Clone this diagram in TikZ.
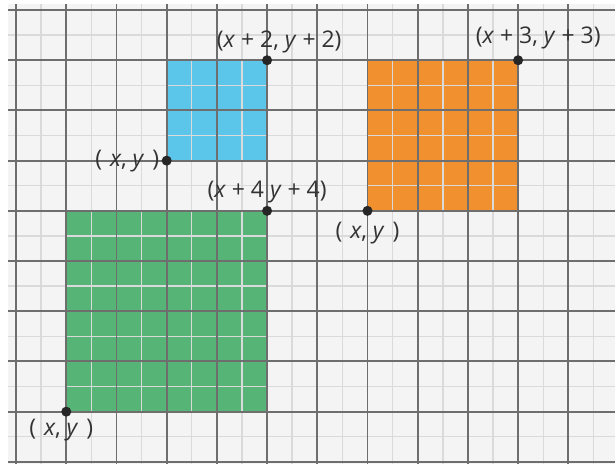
\documentclass[tikz,border=0pt]{standalone}
\usepackage{fontspec}
\setmainfont{Open Sans}
\usetikzlibrary{positioning}
\definecolor{paper}{HTML}{F4F4F4}
\definecolor{thinline}{HTML}{DADADA}
\definecolor{thickline}{HTML}{6E6E6E}
\definecolor{skyblue}{HTML}{5BC5EA}
\definecolor{tangerine}{HTML}{F1902E}
\definecolor{leafgreen}{HTML}{55B476}
\definecolor{ink}{HTML}{333333}
\tikzset{
  minorgrid/.style={thinline, line width=0.8pt},
  majorgrid/.style={thickline, line width=1.1pt},
  dot/.style={circle, fill=black!85, inner sep=0pt, minimum size=0.2cm},
  lbl/.style={font=\fontsize{13}{15}\selectfont, text=ink, inner sep=1pt},
}

\begin{document}
\begin{tikzpicture}
        \useasboundingbox (-0.32,-0.04) rectangle (11.93,9.2);
        \fill[paper] (-0.16,-0.04) rectangle (11.93,9.12);
        \fill[leafgreen] (1,1) rectangle (5,5);
        \fill[skyblue] (3,6) rectangle (5,8);
        \fill[tangerine] (7,5) rectangle (10,8);
        \draw[minorgrid] (-0.16,-0.04) grid[step=0.5] (11.93,9.12);
        \draw[majorgrid] (-0.16,-0.04) grid[step=1] (11.93,9.12);
        \node[dot] (blo) at (3,6) {};
        \node[dot] (bhi) at (5,8) {};
        \node[dot] (glo) at (1,1) {};
        \node[dot] (ghi) at (5,5) {};
        \node[dot] (olo) at (7,5) {};
        \node[dot] (ohi) at (10,8) {};
        \node[lbl, left=0pt of blo] (bloxy) {(\hspace{0.35em}\textit{x}, \textit{y}\hspace{0.35em})};
        \node[lbl, above=0pt of bhi, xshift=0.24cm] (bhixy) {(\textit{x} + 2, \textit{y} + 2)};
        \node[lbl, below=0pt of glo, xshift=-0.1cm] (gloxy) {(\hspace{0.35em}\textit{x}, \textit{y}\hspace{0.35em})};
        \node[lbl, above=0pt of ghi] (ghixy) {(\textit{x} + 4 \textit{y} + 4)};
        \node[lbl, below=2pt of olo] (oloxy) {(\hspace{0.35em}\textit{x}, \textit{y}\hspace{0.35em})};
        \node[lbl, above=2pt of ohi, xshift=0.4cm] (ohixy) {(\textit{x} + 3, \textit{y} + 3)};
      \end{tikzpicture}
\end{document}
